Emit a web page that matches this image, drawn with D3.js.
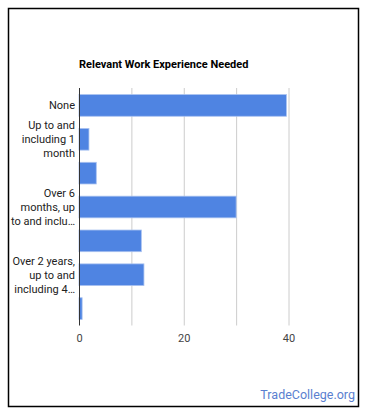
<!DOCTYPE html>
<html><head><meta charset="utf-8">
<script src="https://cdn.jsdelivr.net/npm/d3@7"></script>
<style>body{margin:0;background:#fff;font-family:Roboto,Arial,sans-serif}</style>
</head><body><svg id="c" width="370" height="417"></svg>
<script>
const categories = [
  "None",
  "Up to and including 1 month",
  "Over 3 months, up to and including 6 months",
  "Over 6 months, up to and including 1 year",
  "Over 1 year, up to and including 2 years",
  "Over 2 years, up to and including 4 years",
  "Over 4 years, up to and including 6 years"
];
const tickLines = [
  ["None"],
  ["Up to and", "including 1", "month"],
  [],
  ["Over 6", "months, up", "to and inclu…"],
  [],
  ["Over 2 years,", "up to and", "including 4…"],
  []
];
const values = [39.6, 1.9, 3.3, 30.0, 11.9, 12.4, 0.6];
const xTicks = [0, 20, 40];
const gridTicks = [10, 20, 30, 40];

const svg = d3.select("#c");
svg.append("rect").attr("x", 8.5).attr("y", 8.5).attr("width", 350).attr("height", 398)
  .attr("fill", "#fff").attr("stroke", "#000").attr("stroke-width", 1.5);

const x = d3.scaleLinear().domain([0, 40]).range([79, 288.5]);
const y = d3.scaleBand().domain(categories).range([88.5, 325.5]).paddingInner(0.36).paddingOuter(0.18);

svg.append("text").attr("x", 79).attr("y", 68).attr("font-size", 11).attr("font-weight", "bold")
  .attr("fill", "#000").text("Relevant Work Experience Needed");

svg.append("g").selectAll("line").data(gridTicks).join("line")
  .attr("x1", d => x(d) + 0.5).attr("x2", d => x(d) + 0.5)
  .attr("y1", 88).attr("y2", 325.5).attr("stroke", "#ccc").attr("stroke-width", 1);

svg.append("g").selectAll("rect").data(values).join("rect")
  .attr("x", x(0)).attr("y", (d, i) => y(categories[i]))
  .attr("width", d => x(d) - x(0)).attr("height", y.bandwidth())
  .attr("fill", "#4f84e2").attr("stroke", "#a9c2f0").attr("stroke-width", 0.8);

svg.append("line").attr("x1", x(0) + 0.5).attr("x2", x(0) + 0.5).attr("y1", 88).attr("y2", 325.5)
  .attr("stroke", "#333").attr("stroke-width", 1);

const xAxis = d3.axisBottom(x).tickValues(xTicks).tickSize(0).tickPadding(0);
const gx = svg.append("g").attr("transform", "translate(0,342)").call(xAxis);
gx.select(".domain").remove();
gx.selectAll("text").attr("font-size", 11).attr("fill", "#444").attr("font-family", "Roboto, Arial, sans-serif").attr("dy", 0);

const lh = 14;
const lab = svg.append("g").attr("font-size", 11).attr("fill", "#222").attr("text-anchor", "end");
categories.forEach((c, i) => {
  const lines = tickLines[i];
  const cy = y(c) + y.bandwidth() / 2;
  lines.forEach((t, j) => {
    lab.append("text").attr("x", 75).attr("y", cy + (j - (lines.length - 1) / 2) * lh + 4).text(t);
  });
});

svg.append("text").attr("x", 355).attr("y", 399).attr("text-anchor", "end").attr("font-size", 12.5)
  .attr("fill", "#5a7fd0").text("TradeCollege.org");
</script></body></html>
